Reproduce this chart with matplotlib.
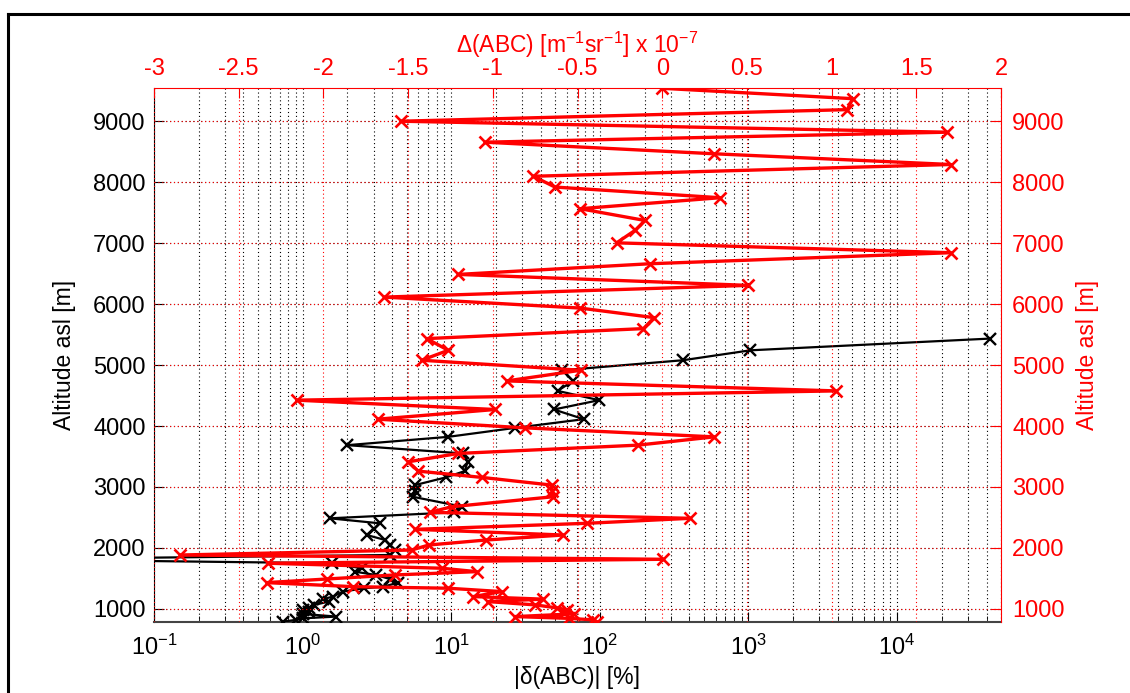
import numpy as np
import matplotlib
matplotlib.use("Agg")
import matplotlib.pyplot as plt
from matplotlib.lines import Line2D
from matplotlib.ticker import LogLocator, FixedLocator, NullFormatter

plt.rcParams['font.family'] = ['Liberation Sans', 'DejaVu Sans']
plt.rcParams['mathtext.fontset'] = 'custom'
plt.rcParams['mathtext.rm'] = 'Liberation Sans'
plt.rcParams['mathtext.it'] = 'Liberation Sans:italic'
plt.rcParams['mathtext.bf'] = 'Liberation Sans:bold'

# ---- data ----
altitude = [9540, 9370, 9190, 9000, 8820, 8656, 8466, 8290, 8097, 7920,
            7745, 7565, 7372, 7210, 7005, 6843, 6662, 6487, 6307, 6115,
            5935, 5778, 5598, 5434, 5242, 5079, 4915, 4740, 4576, 4424,
            4271, 4112, 3970, 3822, 3686, 3550, 3413, 3260, 3157, 3031,
            2933, 2840, 2676, 2584, 2486, 2404, 2305, 2212, 2130, 2048,
            1966, 1884, 1814, 1749, 1667, 1611, 1557, 1491, 1431, 1365,
            1339, 1284, 1202, 1160, 1120, 1066, 1016, 984, 951, 918,
            874, 845, 820, 792]

delta_abc = [0.0, 1.124, 1.093, -1.542, 1.679, -1.046, 0.306, 1.703, -0.761, -0.633,
             0.341, -0.485, -0.102, -0.16, -0.269, 1.703, -0.072, -1.204, 0.508, -1.64,
             -0.485, -0.047, -0.111, -1.39, -1.263, -1.42, -0.481, -0.918, 1.026, -2.158,
             -0.987, -1.68, -0.81, 0.307, -0.145, -1.204, -1.499, -1.44, -1.065, -0.652,
             -0.65, -0.643, -1.243, -1.37, 0.164, -0.446, -1.459, -0.584, -1.04, -1.378,
             -1.479, -2.847, 0.007, -2.325, -1.302, -1.095, -1.578, -1.977, -2.335, -1.824,
             -1.263, -0.948, -1.115, -0.702, -1.03, -0.75, -0.62, -0.56, -0.58, -0.52,
             -0.869, -0.55, -0.407, -0.387]

rel_abc = [np.nan] * 23 + [
    4.2e4, 1030, 362, 56, 66, 52, 99, 49, 78, 27,
    9.5, 2.0, 12, 12.9, 12.3, 9.2, 5.7, 5.7, 5.5, 11.9,
    10.5, 1.52, 3.3, 3.0, 2.7, 3.6, 3.85, 4.2, 3.9, 0.01,
    1.57, 2.5, 2.24, 3.1, 3.86, 4.4, 3.5, 2.6, 1.87, 1.6,
    1.37, 1.5, 1.2, 1.1, 1.0, 1.1, 1.0, 1.69, 1.0, 0.9,
    0.74]

alt_ticks = [1000, 2000, 3000, 4000, 5000, 6000, 7000, 8000, 9000]
top_ticks = [-3, -2.5, -2, -1.5, -1, -0.5, 0, 0.5, 1, 1.5, 2]
top_labels = ['-3', '-2.5', '-2', '-1.5', '-1', '-0.5', '0', '0.5', '1', '1.5', '2']

W, H = 1130, 693
fig = plt.figure(figsize=(W / 100, H / 100), dpi=100)
fig.patch.set_facecolor('white')

# frame border lines
fig.add_artist(Line2D([8 / W, 8 / W], [0, 1 - 14 / H], color='black', lw=2.2,
                      transform=fig.transFigure))
fig.add_artist(Line2D([8 / W, 1], [1 - 14 / H, 1 - 14 / H], color='black', lw=2.2,
                      transform=fig.transFigure))

left, right = 154 / W, 1001 / W
bottom, top = (H - 621.7) / H, (H - 88.3) / H
pos = [left, bottom, right - left, top - bottom]

ylim = (790, 9540)
dots = (0, (1, 2.5))
TS = 17
LS = 16.5

# ---- black axes (bottom log x, left y) ----
ax1 = fig.add_axes(pos)
ax1.set_xscale('log')
ax1.set_xlim(0.1, 5e4)
ax1.set_ylim(*ylim)
ax1.xaxis.set_major_locator(LogLocator(base=10, numticks=20))
ax1.xaxis.set_minor_locator(LogLocator(base=10, subs=np.arange(2, 10), numticks=20))
ax1.xaxis.set_minor_formatter(NullFormatter())
ax1.yaxis.set_major_locator(FixedLocator(alt_ticks))
ax1.grid(True, which='both', axis='x', linestyle=dots, color='black', lw=0.8)
ax1.grid(True, which='major', axis='y', linestyle=dots, color='black', lw=0.8)
ax1.plot(rel_abc, altitude, color='black', lw=1.6, marker='x', ms=9, mew=1.7, zorder=3)
ax1.tick_params(axis='both', which='major', direction='in', length=7, labelsize=TS,
                top=False, right=False, colors='black')
ax1.tick_params(axis='x', which='minor', direction='in', length=4, top=False)
ax1.tick_params(axis='x', which='major', pad=9)
ax1.tick_params(axis='y', which='major', pad=6)
for s in ['top', 'right']:
    ax1.spines[s].set_visible(False)
ax1.spines['left'].set_color('black')
ax1.spines['bottom'].set_color('#444444')
ax1.spines['bottom'].set_linewidth(1.5)
ax1.set_xlabel('|δ(ABC)| [%]', fontsize=LS, labelpad=5)
ax1.set_ylabel('Altitude asl [m]', fontsize=LS, labelpad=12)

# ---- red axes (top linear x, right y) ----
ax2 = fig.add_axes(pos, frameon=True)
ax2.patch.set_alpha(0)
ax2.set_xlim(-3, 2)
ax2.set_ylim(*ylim)
ax2.xaxis.set_major_locator(FixedLocator(top_ticks))
ax2.set_xticklabels(top_labels)
ax2.yaxis.set_major_locator(FixedLocator(alt_ticks))
ax2.xaxis.tick_top()
ax2.xaxis.set_label_position('top')
ax2.yaxis.tick_right()
ax2.yaxis.set_label_position('right')
ax2.grid(True, which='major', linestyle=dots, color='red', lw=0.8)
ax2.plot(delta_abc, altitude, color='red', lw=2.4, marker='x', ms=9, mew=1.9, zorder=4)
ax2.tick_params(axis='both', which='major', direction='in', length=7, labelsize=TS,
                colors='red')
ax2.tick_params(axis='x', pad=6)
ax2.tick_params(axis='y', pad=8)
for s in ['left', 'bottom']:
    ax2.spines[s].set_visible(False)
for s in ['top', 'right']:
    ax2.spines[s].set_color('red')
ax2.set_xlabel(r'Δ(ABC) [m$^{-1}$sr$^{-1}$] x 10$^{-7}$', fontsize=LS, color='red',
               labelpad=4)
ax2.set_ylabel('Altitude asl [m]', fontsize=LS, color='red', labelpad=8)

fig.savefig('out.png', dpi=100)
